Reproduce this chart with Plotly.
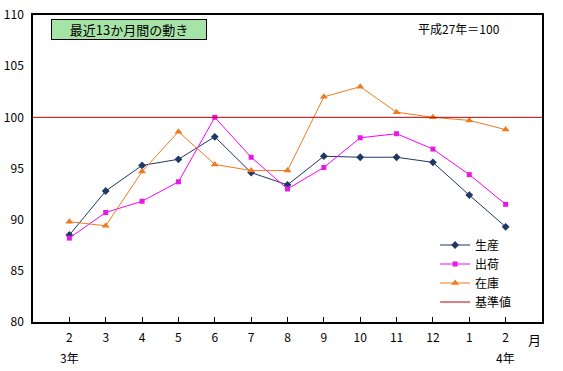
import plotly.graph_objects as go

months = ["2", "3", "4", "5", "6", "7", "8", "9", "10", "11", "12", "1", "2"]
production = [88.5, 92.8, 95.3, 95.9, 98.1, 94.6, 93.4, 96.2, 96.1, 96.1, 95.6, 92.4, 89.3]
shipments = [88.2, 90.7, 91.8, 93.7, 100.0, 96.1, 93.0, 95.1, 98.0, 98.4, 96.9, 94.4, 91.5]
inventory = [89.8, 89.4, 94.7, 98.6, 95.4, 94.8, 94.8, 102.0, 103.0, 100.5, 100.0, 99.7, 98.8]
baseline = 100
y_ticks = [80, 85, 90, 95, 100, 105, 110]

pos = list(range(1, len(months) + 1))
FONT = "Noto Sans CJK JP"

fig = go.Figure()
fig.add_trace(go.Scatter(x=pos, y=production, name="生産", mode="lines+markers",
                         line=dict(color="#1F3864", width=1),
                         marker=dict(symbol="diamond", size=6, color="#1F3864")))
fig.add_trace(go.Scatter(x=pos, y=shipments, name="出荷", mode="lines+markers",
                         line=dict(color="#FF00FF", width=1),
                         marker=dict(symbol="square", size=5, color="#E619E6")))
fig.add_trace(go.Scatter(x=pos, y=inventory, name="在庫", mode="lines+markers",
                         line=dict(color="#F07A20", width=1),
                         marker=dict(symbol="triangle-up", size=7, color="#F07A20")))
fig.add_trace(go.Scatter(x=[0, len(months) + 1], y=[baseline, baseline], name="基準値",
                         mode="lines", line=dict(color="#C00000", width=1)))

fig.update_layout(
    width=563, height=371,
    margin=dict(l=33, r=21, t=15, b=49, autoexpand=False),
    paper_bgcolor="white", plot_bgcolor="white",
    font=dict(family=FONT, size=12, color="black"),
    showlegend=True,
    legend=dict(x=0.79, y=0.298, xanchor="left", yanchor="top",
                bgcolor="rgba(0,0,0,0)", font=dict(size=12, family=FONT),
                tracegroupgap=0, itemwidth=30),
    xaxis=dict(range=[0, len(months) + 1], tickvals=pos, ticktext=months,
               showgrid=False, zeroline=False, showline=True, linecolor="black",
               linewidth=1.5, mirror=True, ticks="inside", ticklen=5,
               tickcolor="black", tickfont=dict(size=12), automargin=False,
               ticklabelstandoff=4),
    yaxis=dict(range=[80, 110], tickvals=y_ticks, showgrid=False, zeroline=False,
               showline=True, linecolor="black", linewidth=1.5, mirror=True,
               ticks="", tickfont=dict(size=12), automargin=False,
               ticklabelstandoff=5),
)

fig.add_annotation(x=1, y=-0.08, xref="x", yref="paper", text="3年", showarrow=False,
                   font=dict(size=12), yanchor="top")
fig.add_annotation(x=len(months), y=-0.08, xref="x", yref="paper", text="4年", showarrow=False,
                   font=dict(size=12), yanchor="top")
fig.add_annotation(x=1.0, y=-0.02, xref="paper", yref="paper", text="月", showarrow=False,
                   font=dict(size=13), xanchor="left", xshift=-16, yanchor="top")
fig.add_annotation(x=0.035, y=0.987, xref="paper", yref="paper", text="最近13か月間の動き",
                   showarrow=False, xanchor="left", yanchor="top",
                   font=dict(size=13), bgcolor="#A6E3A6", bordercolor="black",
                   borderwidth=1, borderpad=1, width=152, height=17)
fig.add_annotation(x=0.753, y=0.99, xref="paper", yref="paper", text="平成27年＝100",
                   showarrow=False, xanchor="left", yanchor="top", font=dict(size=12))

# remove the browser's default 8px body margin so the figure sits at the page origin
fig.write_html("out.html", config={"displayModeBar": False},
               post_script="document.body.style.margin='0';")
